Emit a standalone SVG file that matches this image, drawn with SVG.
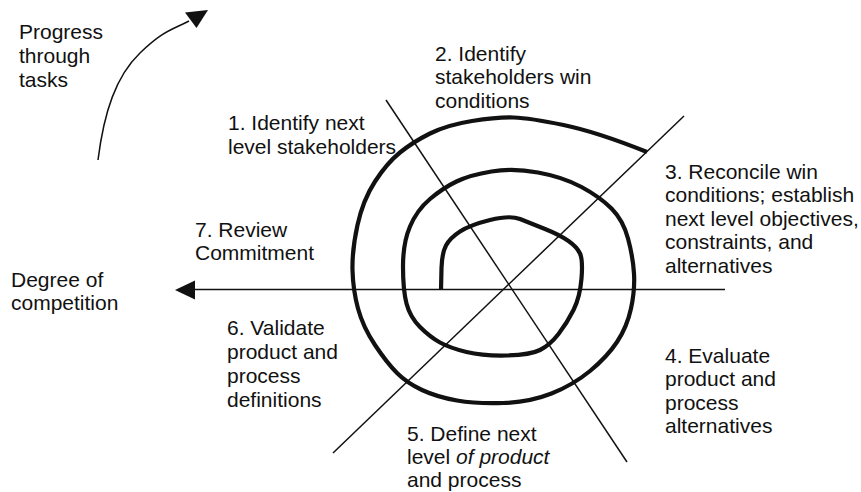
<svg xmlns="http://www.w3.org/2000/svg" width="861" height="492" viewBox="0 0 861 492">
<style>
text{font-family:"Liberation Sans",Arial,sans-serif;font-size:21px;fill:#111}
.thin{fill:none;stroke:#111;stroke-width:1.5}
.spiral{fill:none;stroke:#111;stroke-width:4.2;stroke-linejoin:round;stroke-linecap:butt}
</style>
<defs>
<marker id="ah" viewBox="0 0 20 20" refX="2" refY="10" markerWidth="20" markerHeight="20" markerUnits="userSpaceOnUse" orient="auto">
<path d="M0,0 L20,10 L0,20 Z" fill="#111"/>
</marker>
</defs>
<rect width="861" height="492" fill="#fff"/>
<g id="connectors">
<path id="axis-horizontal" class="thin" d="M725,289.5 L194,289.5"/>
<polygon points="175,290 195,280.5 195,299.5" fill="#111"/>
<path id="axis-diag1" class="thin" d="M386,100 L627,462"/>
<path id="axis-diag2" class="thin" d="M684,116 L333,453"/>
<path id="progress-arrow" class="thin" d="M98,160 C104,112 116,76 140,53 S172,30 189,21"/>
<polygon points="185,12.5 208,10 196.5,28" fill="#111"/>
<path id="spiral" class="spiral" d="M647,152 Q597,132 563.5,125 Q530,118 513.5,117.5 Q497,117 472,121 Q447,125 430,133.5 Q413,142 400,152.5 Q387,163 375,181.5 Q363,200 357.5,225 Q352,250 352.5,270 Q353,290 358,308.5 Q363,327 375,345 Q387,363 397,373 Q407,383 422,390 Q437,397 457,400.5 Q477,404 503.5,403 Q530,402 551.5,393.5 Q573,385 590,371 Q607,357 617,342 Q627,327 631,308.5 Q635,290 634,273.5 Q633,257 628,238.5 Q623,220 611.5,208.5 Q600,197 581.5,187 Q563,177 538,172.5 Q513,168 491.5,171.5 Q470,175 456.5,181.5 Q443,188 430,199 Q417,210 410,226.5 Q403,243 403,266.5 Q403,290 406.5,303.5 Q410,317 420,327 Q430,337 440,342.5 Q450,348 466.5,352 Q483,356 506.5,355.5 Q530,355 540,350 Q550,345 558.5,334 Q567,323 573.5,310 Q580,297 581.5,278.5 Q583,260 580,253.5 Q577,247 568.5,241 Q560,235 545,229 Q530,223 520,219 Q510,215 490,220 Q470,225 460,231.5 Q450,238 446,245.5 Q442,253 441.5,268 L441,290"/>
</g>
<g id="label-progress"><text x="19" y="39">Progress</text><text x="19" y="63">through</text><text x="19" y="86.5">tasks</text></g>
<g id="label-degree"><text x="11" y="286.5">Degree of</text><text x="11" y="310">competition</text></g>
<g id="node-1"><text x="228" y="130">1. Identify next</text><text x="228" y="153.5">level stakeholders</text></g>
<g id="node-2"><text x="435" y="60.5">2. Identify</text><text x="435" y="84">stakeholders win</text><text x="435" y="107.5">conditions</text></g>
<g id="node-3"><text x="665" y="178.5">3. Reconcile win</text><text x="665" y="202">conditions; establish</text><text x="665" y="225.5">next level objectives,</text><text x="665" y="249">constraints, and</text><text x="665" y="272.5">alternatives</text></g>
<g id="node-4"><text x="665" y="362.5">4. Evaluate</text><text x="665" y="386">product and</text><text x="665" y="409.5">process</text><text x="665" y="433">alternatives</text></g>
<g id="node-5"><text x="407" y="440.5">5. Define next</text><text x="407" y="464">level <tspan font-style="italic">of product</tspan></text><text x="407" y="487">and process</text></g>
<g id="node-6"><text x="227" y="335">6. Validate</text><text x="227" y="359">product and</text><text x="227" y="383">process</text><text x="227" y="406.5">definitions</text></g>
<g id="node-7"><text x="195" y="236.5">7. Review</text><text x="195" y="260">Commitment</text></g>
</svg>
